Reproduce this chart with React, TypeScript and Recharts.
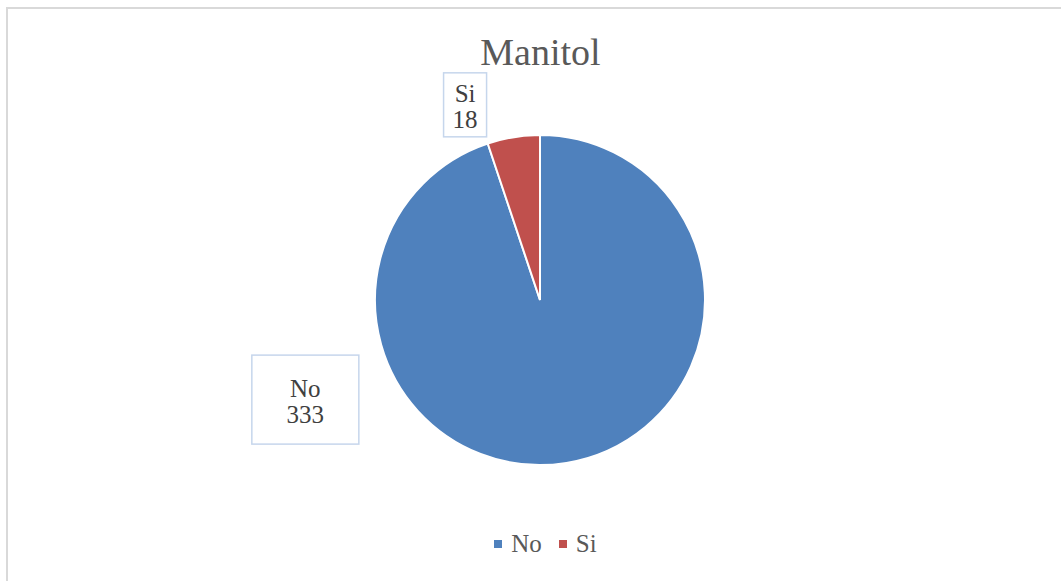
import { PieChart, Pie, Cell, Legend } from 'recharts';

const categories = ['No', 'Si'];
const counts = [333, 18];
const colors = ['#4f81bd', '#c0504d'];

const chartData = categories.map((name, i) => ({ name, value: counts[i], color: colors[i] }));

// where each data label box sits, as angle (deg) and distance relative to the outer radius
const labelLayout: Record<string, { angle: number; dist: number; w: number; h: number }> = {
  No: { angle: 203, dist: 1.545, w: 107, h: 89 },
  Si: { angle: 111, dist: 1.267, w: 43, h: 64 },
};

const FONT = '"Liberation Serif", "DejaVu Serif", serif';

const renderLabel = (props: any) => {
  const { cx, cy, outerRadius, name, value } = props;
  const l = labelLayout[name];
  if (!l) return null;
  const rad = (l.angle * Math.PI) / 180;
  const x = cx + outerRadius * l.dist * Math.cos(rad);
  const y = cy - outerRadius * l.dist * Math.sin(rad);
  return (
    <g>
      <rect
        x={x - l.w / 2}
        y={y - l.h / 2}
        width={l.w}
        height={l.h}
        fill="#ffffff"
        stroke="#c6d6ec"
        strokeWidth={1.5}
      />
      <text x={x} y={y - 3} textAnchor="middle" fontFamily={FONT} fontSize={25} fill="#404040">
        {name}
      </text>
      <text x={x} y={y + 23} textAnchor="middle" fontFamily={FONT} fontSize={25} fill="#404040">
        {value}
      </text>
    </g>
  );
};

const LegendContent = () => (
  <div style={{ display: 'flex', justifyContent: 'center', alignItems: 'center', fontFamily: FONT, fontSize: 25, color: '#595959' }}>
    {chartData.map((d, i) => (
      <div key={d.name} style={{ display: 'flex', alignItems: 'center', marginLeft: i === 0 ? 0 : 17 }}>
        <span style={{ display: 'inline-block', width: 8, height: 8, background: d.color, marginRight: 9 }} />
        <span>{d.name}</span>
      </div>
    ))}
  </div>
);

export default function App() {
  return (
    <div style={{ position: 'absolute', left: 0, top: 0, width: 1061, height: 581, overflow: 'hidden', background: '#fff' }}>
      <div
        style={{
          position: 'absolute',
          left: 6,
          top: 7,
          width: 1100,
          height: 620,
          border: '2px solid #d9d9d9',
          boxSizing: 'border-box',
        }}
      />
      <div
        style={{
          position: 'absolute',
          left: 0,
          top: 30,
          width: 1081,
          textAlign: 'center',
          fontFamily: FONT,
          fontSize: 38,
          color: '#595959',
          lineHeight: '44px',
        }}
      >
        Manitol
      </div>
      <div style={{ position: 'absolute', left: 0, top: 0 }}>
        <PieChart width={1061} height={581} margin={{ top: 0, right: 0, bottom: 0, left: 0 }}>
          <Pie
            data={chartData}
            dataKey="value"
            nameKey="name"
            cx={540}
            cy={300}
            outerRadius={165}
            startAngle={90}
            endAngle={-270}
            stroke="#ffffff"
            strokeWidth={2}
            label={renderLabel}
            labelLine={false}
            isAnimationActive={false}
          >
            {chartData.map((d) => (
              <Cell key={d.name} fill={d.color} />
            ))}
          </Pie>
          <Legend
            content={<LegendContent />}
            wrapperStyle={{ top: 530, left: 0, width: 1091, bottom: 'auto' }}
          />
        </PieChart>
      </div>
    </div>
  );
}
